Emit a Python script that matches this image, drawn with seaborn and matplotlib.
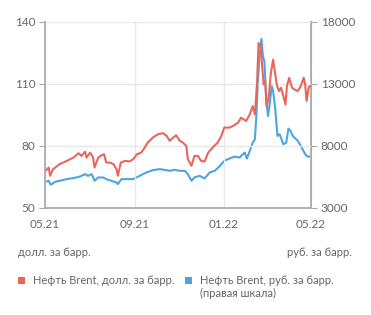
import matplotlib
matplotlib.use("Agg")
import matplotlib.pyplot as plt
import matplotlib.dates as mdates
from matplotlib.patches import Rectangle
import numpy as np
import pandas as pd
import seaborn as sns

# Brent, USD per barrel (day offset from 2021-05-01, value)
usd_days = [1, 5, 7, 11, 20, 30, 39, 46, 50, 55, 57, 62, 66, 68, 73, 78, 81, 84, 89, 94,
            98, 100, 104, 110, 116, 121, 126, 132, 137, 141, 148, 155, 162, 167, 171, 176,
            180, 185, 189, 194, 196, 201, 205, 210, 214, 219, 224, 230, 237, 242, 246, 253,
            258, 265, 269, 276, 281, 285, 288, 291, 293, 296, 298, 300, 302, 304, 307, 310,
            313, 315, 318, 321, 324, 327, 330, 332, 335, 339, 342, 347, 351, 355, 357, 359,
            362, 364]
usd_vals = [68.0, 69.6, 65.6, 68.8, 71.2, 72.8, 74.4, 76.5, 75.2, 77.2, 74.4, 76.8, 74.4, 69.6,
            74.4, 75.6, 76.0, 72.0, 72.0, 71.2, 68.8, 65.6, 72.0, 72.8, 72.5, 73.6, 76.0, 76.8,
            79.3, 81.7, 84.1, 85.7, 86.2, 84.9, 82.5, 84.1, 85.2, 82.5, 81.7, 80.0, 73.6, 70.4,
            75.2, 75.2, 72.8, 72.5, 76.8, 79.3, 81.7, 84.9, 88.9, 88.9, 89.7, 91.3, 93.7, 92.1,
            95.3, 99.3, 95.3, 110.6, 129.9, 128.3, 118.6, 109.8, 111.4, 99.3, 103.4, 115.4,
            121.8, 117.0, 109.8, 106.6, 108.2, 104.2, 100.1, 109.0, 113.0, 108.2, 107.4, 106.6,
            109.0, 113.0, 109.8, 101.8, 108.6, 109.0]

# Brent, RUB per barrel (right scale)
rub_days = [1, 5, 8, 14, 20, 30, 39, 48, 55, 59, 64, 68, 73, 80, 84, 91, 98, 100, 105, 112,
            121, 130, 139, 148, 157, 164, 171, 178, 185, 192, 196, 201, 205, 212, 219, 226,
            233, 240, 246, 253, 260, 267, 274, 277, 281, 285, 288, 290, 292, 294, 297, 299,
            301, 302, 304, 306, 308, 311, 313, 316, 319, 322, 327, 331, 334, 337, 340, 347,
            351, 357, 360, 364]
rub_vals = [5114, 5195, 4873, 5114, 5195, 5330, 5410, 5543, 5730, 5597, 5730, 5195, 5463,
            5463, 5330, 5195, 5061, 4927, 5330, 5330, 5330, 5597, 5865, 6052, 6132, 6079,
            5998, 6079, 5998, 5998, 5730, 5195, 5463, 5597, 5383, 5865, 5998, 6400, 6802,
            6989, 7150, 7070, 7472, 6989, 7606, 8275, 8543, 10418, 13097, 14972, 16634,
            15240, 14839, 13633, 11490, 10418, 11222, 12830, 12428, 10954, 8811, 8945, 8141,
            8275, 9400, 9213, 8811, 8409, 8007, 7338, 7150, 7150]

x_ticks = ["2021-05-01", "2021-09-01", "2022-01-01", "2022-05-01"]
x_tick_labels = ["05.21", "09.21", "01.22", "05.22"]
left_ticks = [50, 80, 110, 140]
right_ticks = [3000, 8000, 13000, 18000]

start = pd.Timestamp("2021-05-01")
df_usd = pd.DataFrame({"date": start + pd.to_timedelta(usd_days, unit="D"), "value": usd_vals})
df_rub = pd.DataFrame({"date": start + pd.to_timedelta(rub_days, unit="D"), "value": rub_vals})

sns.set_theme(style="white")
plt.rcParams["font.family"] = ["Lato", "DejaVu Sans"]

RED = "#E8675A"
BLUE = "#4DA5E0"
TXT = "#666666"
GRID = "#E8E8E8"
SPINE = "#AAAAAA"

fig = plt.figure(figsize=(3.71, 3.15), dpi=100)
ax = fig.add_axes([45 / 371, 1 - 208 / 315, 266 / 371, 186 / 315])
ax2 = ax.twinx()

sns.lineplot(data=df_usd, x="date", y="value", ax=ax, color=RED, linewidth=1.5)
sns.lineplot(data=df_rub, x="date", y="value", ax=ax2, color=BLUE, linewidth=1.5)

ax.set_zorder(ax2.get_zorder() + 1)
ax.patch.set_visible(False)

ax.set_xlim(pd.Timestamp("2021-05-01"), pd.Timestamp("2022-05-01"))
ax.set_ylim(50, 140)
ax2.set_ylim(3000, 18000)
ax.set_xticks(pd.to_datetime(x_ticks))
ax.set_xticklabels(x_tick_labels)
ax.set_yticks(left_ticks)
ax2.set_yticks(right_ticks)
ax.set_xlabel("")
ax.set_ylabel("")
ax2.set_ylabel("")

ax.grid(True, color=GRID, linewidth=1.0)
ax2.grid(False)
for a in (ax, ax2):
    for s in a.spines.values():
        s.set_visible(False)
ax.spines["left"].set_visible(True)
ax.spines["left"].set_color(SPINE)
ax.spines["bottom"].set_visible(True)
ax.spines["bottom"].set_color(SPINE)
ax2.spines["right"].set_visible(True)
ax2.spines["right"].set_color(SPINE)
ax2.spines["right"].set_linewidth(1.5)

ax.tick_params(axis="both", colors=SPINE, labelcolor=TXT, labelsize=8.5, length=4, width=0.8, direction="out", pad=3)
ax.tick_params(axis="x", pad=4)
ax2.tick_params(axis="y", colors=SPINE, labelcolor=TXT, labelsize=8.5, length=4, width=0.8, pad=3)

fig.text(18 / 371, 1 - 253 / 315, "долл. за барр.", color=TXT, fontsize=8, ha="left", va="center")
fig.text(352 / 371, 1 - 253 / 315, "руб. за барр.", color=TXT, fontsize=8, ha="right", va="center")

sq = 7
fig.add_artist(Rectangle((18 / 371, 1 - 284 / 315), sq / 371, sq / 315, transform=fig.transFigure, color=RED, lw=0))
fig.text(33 / 371, 1 - 280 / 315, "Нефть Brent, долл. за барр.", color=TXT, fontsize=8, ha="left", va="center")
fig.add_artist(Rectangle((185 / 371, 1 - 284 / 315), sq / 371, sq / 315, transform=fig.transFigure, color=BLUE, lw=0))
fig.text(200 / 371, 1 - 280 / 315, "Нефть Brent, руб. за барр.", color=TXT, fontsize=8, ha="left", va="center")
fig.text(200 / 371, 1 - 293 / 315, "(правая шкала)", color=TXT, fontsize=8, ha="left", va="center")

fig.savefig("out.png", dpi=100)
